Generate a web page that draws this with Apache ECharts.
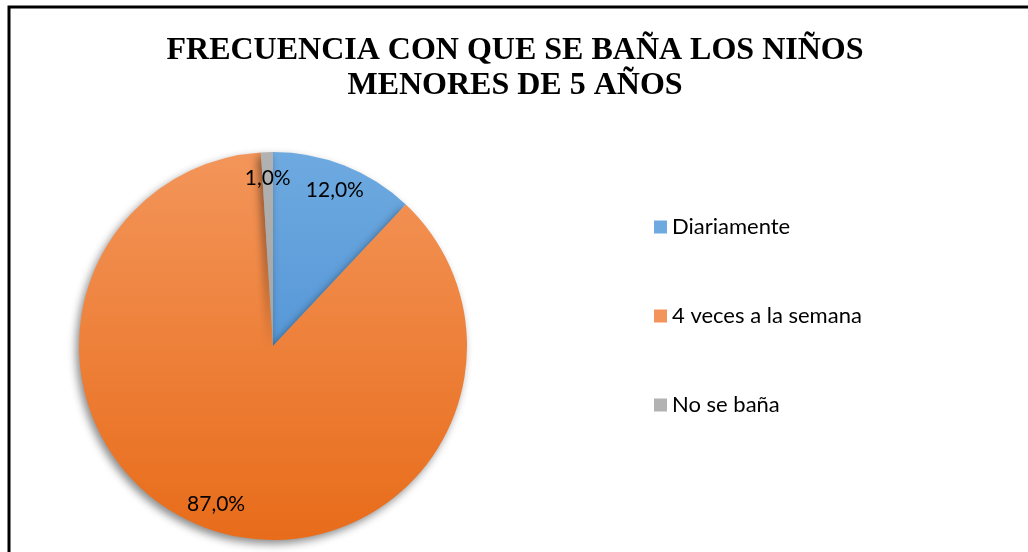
<!DOCTYPE html>
<html>
<head>
<meta charset="utf-8">
<script src="https://cdn.jsdelivr.net/npm/echarts@6/dist/echarts.min.js"></script>
<style>
html, body { margin: 0; padding: 0; background: #fff; }
#chart { width: 1028px; height: 552px; }
</style>
</head>
<body>
<div id="chart"></div>
<script>
var categories = ['Diariamente', '4 veces a la semana', 'No se baña'];
var values = [12.0, 87.0, 1.0];
var colorTops = ['#6EAAE0', '#F3955A', '#B2B2B2'];
var colorBottoms = ['#3F85CF', '#E86C1A', '#969696'];

var myChart = echarts.init(document.getElementById('chart'));

// gradiente vertical sobre todo el pastel, como en Excel
function grad(i) {
	return new echarts.graphic.LinearGradient(0, 152, 0, 540, [
		{ offset: 0, color: colorTops[i] },
		{ offset: 1, color: colorBottoms[i] }
	], true);
}

var pieData = categories.map(function(c, i) {
	return { name: c, value: values[i], itemStyle: { color: grad(i) } };
});
var labelData = categories.map(function(c, i) {
	return { name: c, value: values[i] };
});

var option = {
	animation: false,
	title: {
		text: 'FRECUENCIA CON QUE SE BAÑA LOS NIÑOS\nMENORES DE 5 AÑOS',
		left: 510,
		textAlign: 'center',
		top: 28,
		textStyle: {
			fontFamily: 'Liberation Serif',
			fontWeight: 'bold',
			fontSize: 32,
			lineHeight: 35,
			color: '#000'
		}
	},
	legend: {
		orient: 'vertical',
		left: 649,
		top: 211,
		itemWidth: 13,
		itemHeight: 13,
		itemGap: 67,
		icon: 'rect',
		data: categories,
		textStyle: { fontFamily: 'Lato', fontSize: 22, color: '#000' }
	},
	graphic: [{
		type: 'rect',
		shape: { x: 9, y: 7, width: 1040, height: 560 },
		style: { fill: 'none', stroke: '#000', lineWidth: 3 },
		silent: true
	}],
	series: [{
		name: 'frecuencia',
		type: 'pie',
		center: [273, 346],
		radius: 194,
		startAngle: 90,
		silent: true,
		label: { show: false },
		labelLine: { show: false },
		itemStyle: {
			shadowBlur: 8,
			shadowOffsetX: -3,
			shadowOffsetY: 4,
			shadowColor: 'rgba(0,0,0,0.45)'
		},
		data: pieData
	}, {
		name: 'etiquetas',
		type: 'pie',
		center: [273, 346],
		radius: 330,
		startAngle: 90,
		silent: true,
		legendHoverLink: false,
		itemStyle: { color: 'rgba(0,0,0,0)' },
		label: {
			show: true,
			position: 'inside',
			formatter: function(p) { return p.value.toFixed(1).replace('.', ',') + '%'; },
			fontFamily: 'Lato',
			fontSize: 21,
			color: '#000'
		},
		labelLine: { show: false },
		data: labelData
	}]
};
myChart.setOption(option);
</script>
</body>
</html>
